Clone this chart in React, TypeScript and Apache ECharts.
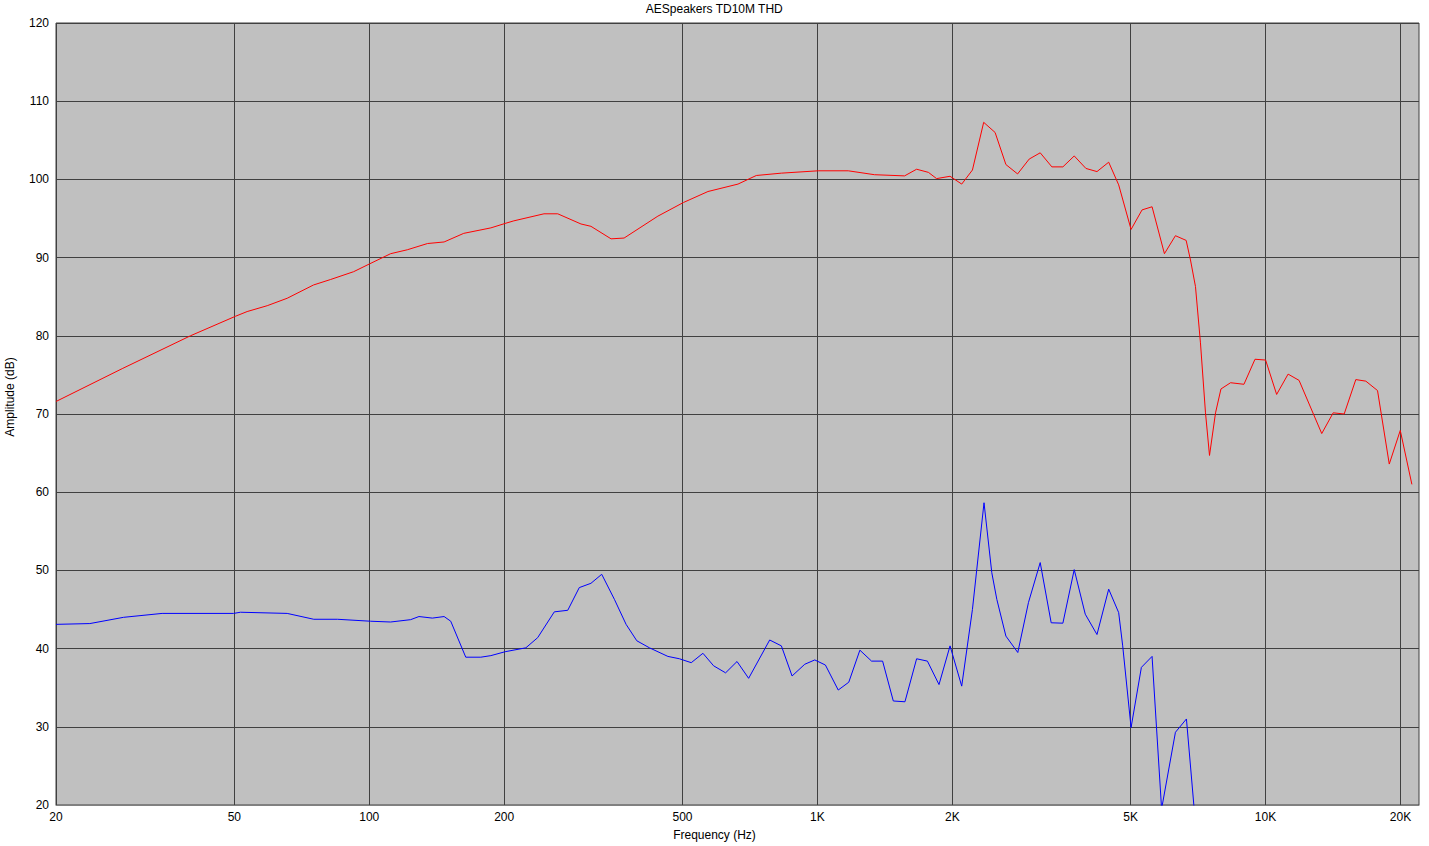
import React, { useEffect, useRef } from "react";
import * as echarts from "echarts";

const chartTitle = "AESpeakers TD10M THD";
const xAxisName = "Frequency (Hz)";
const yAxisName = "Amplitude (dB)";

const xTickValues = [20, 50, 100, 200, 500, 1000, 2000, 5000, 10000, 20000];
const yMin = 20;
const yMax = 120;
const yStep = 10;
const xMin = 20;
const xMax = 22000;

// Fundamental (red)
const redFreq = [
  20, 28.1, 39.9, 50.3, 53.4, 59.2, 65.6, 75.1, 82.0, 92.3, 100.2, 111.6, 121.6, 134.9, 146.9, 162.5, 186.8,
  201.8, 210.2, 245.4, 263.4, 296.8, 312.4, 346.4, 370.4, 440.6, 502.6, 569.9, 665, 730.6, 831, 1004, 1172,
  1341, 1565, 1665, 1769, 1845, 1977, 2099, 2218, 2350, 2492, 2634, 2797, 2969, 3142, 3336, 3530, 3742, 3974,
  4206, 4467, 4702, 5011, 5302, 5582, 5948, 6294, 6650, 6800, 6977, 7158, 7345, 7498, 7734, 7952, 8355, 8950,
  9472, 10004, 10586, 11228, 11880, 13348, 14156, 14978, 15900, 16742, 17778, 18882, 19982, 21210,
];
const redDb = [
  71.6, 75.8, 80.0, 82.5, 83.1, 83.85, 84.8, 86.5, 87.2, 88.2, 89.2, 90.5, 91.0, 91.8, 92.0, 93.1, 93.8,
  94.4, 94.7, 95.6, 95.6, 94.3, 94.0, 92.4, 92.5, 95.3, 97.05, 98.45, 99.4, 100.5, 100.8, 101.1, 101.1,
  100.6, 100.45, 101.3, 100.9, 100.1, 100.4, 99.4, 101.2, 107.3, 106.0, 101.9, 100.7, 102.6, 103.4, 101.6, 101.6, 103.0, 101.4,
  101.0, 102.2, 99.3, 93.6, 96.1, 96.5, 90.5, 92.8, 92.2, 89.7, 86.3, 79.1, 70.15, 64.7, 70.15, 73.2, 74.0, 73.8,
  77.0, 76.9, 72.5, 75.1, 74.3, 67.5, 70.15, 70.0, 74.4, 74.2, 73.0, 63.6, 67.9, 61.0,
];

// THD (blue)
const blueFreq = [
  20, 23.8, 28.3, 34.5, 49.8, 51.6, 65.6, 75.2, 84.9, 100.7, 111.6, 123.7, 129.1, 138.3, 146.9, 152.0, 164.2, 177.4,
  186.8, 201.0, 223.6, 237.6, 258.8, 277.3, 294.2, 312.4, 330.2, 352.4, 374.2, 395.4, 422.0, 463.9, 492.3, 523.0,
  555.4, 586.7, 624.0, 661.7, 702.4, 782.6, 831, 878.0, 937.2, 986.6, 1042, 1113, 1175, 1244, 1321, 1398, 1477,
  1568, 1665, 1760, 1868, 1977, 2099, 2218, 2354, 2450, 2514, 2634, 2800, 2958, 3142, 3324, 3530, 3742, 3960,
  4206, 4467, 4702, 4800, 5011, 5284, 5582, 5862, 6294, 6660, 6930,
];
const blueDb = [
  43.1, 43.2, 44.0, 44.5, 44.5, 44.65, 44.5, 43.75, 43.75, 43.5, 43.4, 43.7, 44.1, 43.9, 44.1, 43.5, 38.9, 38.9,
  39.1, 39.6, 40.1, 41.4, 44.7, 44.9, 47.8, 48.35, 49.5, 46.3, 43.1, 41.0, 40.1, 39.0, 38.7, 38.2,
  39.4, 37.8, 36.9, 38.35, 36.2, 41.1, 40.35, 36.5, 38.0, 38.55, 37.9, 34.7, 35.7, 39.8, 38.4, 38.4, 33.3,
  33.2, 38.7, 38.4, 35.4, 40.35, 35.2, 45.0, 58.65, 49.7, 46.3, 41.6, 39.5, 45.9, 51.0, 43.3, 43.25, 50.1, 44.4,
  41.8, 47.6, 44.6, 40.35, 29.9, 37.6, 39.0, 19.5, 29.3, 31.0, 19.5,
];

const fontFamily = "'Liberation Sans', Arial, sans-serif";

export default function App() {
  const ref = useRef<HTMLDivElement>(null);

  useEffect(() => {
    document.body.style.margin = "0";
    if (!ref.current) return;
    const chart = echarts.init(ref.current, undefined, { renderer: "svg" });
    const fmtX = (v: number) => (v >= 1000 ? `${Math.round(v / 1000)}K` : `${Math.round(v)}`);
    chart.setOption({
      animation: false,
      backgroundColor: "#ffffff",
      textStyle: { fontFamily },
      grid: {
        left: 56,
        right: 10,
        top: 23,
        bottom: 41,
        show: true,
        backgroundColor: "#c0c0c0",
        borderColor: "#404040",
        borderWidth: 1,
      },
      xAxis: {
        type: "log",
        logBase: 10,
        min: xMin,
        max: xMax,
        axisLine: { show: true, lineStyle: { color: "#808080", width: 1 } },
        axisTick: { show: false, customValues: xTickValues },
        splitLine: { show: true, lineStyle: { color: "#404040", width: 1 } },
        minorSplitLine: { show: false },
        axisLabel: {
          customValues: xTickValues,
          formatter: fmtX,
          color: "#000",
          fontSize: 12,
          fontFamily,
          margin: 6,
          showMinLabel: true,
          showMaxLabel: true,
        },
      },
      yAxis: {
        type: "value",
        min: yMin,
        max: yMax,
        interval: yStep,
        axisLine: { show: false },
        axisTick: { show: false },
        splitLine: { show: true, lineStyle: { color: "#404040", width: 1 } },
        axisLabel: { color: "#000", fontSize: 12, fontFamily, margin: 7 },
      },
      graphic: [
        {
          type: "text",
          left: "center",
          top: 3,
          style: { text: chartTitle, fill: "#000", font: `12px ${fontFamily}` },
        },
        {
          type: "text",
          left: "center",
          top: 829,
          style: { text: xAxisName, fill: "#000", font: `12px ${fontFamily}` },
        },
        {
          type: "text",
          x: 10,
          y: 397,
          rotation: Math.PI / 2,
          style: {
            text: yAxisName,
            fill: "#000",
            font: `12px ${fontFamily}`,
            textAlign: "center",
            textVerticalAlign: "middle",
          },
        },
      ],
      series: [
        {
          name: "Fundamental",
          type: "line",
          data: redFreq.map((f, i) => [f, redDb[i]]),
          symbol: "none",
          clip: true,
          lineStyle: { color: "#ff0000", width: 1 },
        },
        {
          name: "THD",
          type: "line",
          data: blueFreq.map((f, i) => [f, blueDb[i]]),
          symbol: "none",
          clip: true,
          lineStyle: { color: "#0000ff", width: 1 },
        },
      ],
    });
    return () => chart.dispose();
  }, []);

  return (
    <div
      ref={ref}
      style={{ position: "absolute", left: 0, top: 0, width: 1429, height: 846, background: "#fff" }}
    />
  );
}
